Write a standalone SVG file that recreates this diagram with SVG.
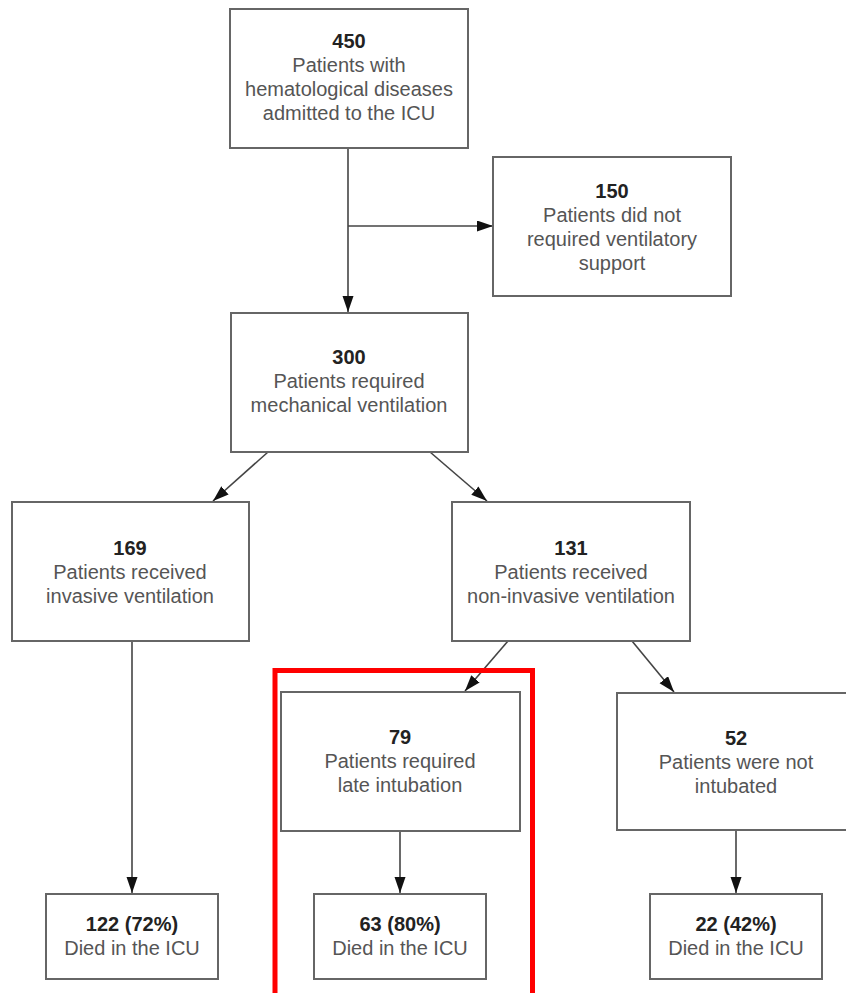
<svg xmlns="http://www.w3.org/2000/svg" width="846" height="993" viewBox="0 0 846 993">
<style>
.box{fill:#fff;stroke:#666;stroke-width:2}
.t{font-family:"Liberation Sans",Arial,sans-serif;font-size:20px;fill:#555;text-anchor:middle}
.n{font-weight:bold;fill:#222}
.c{stroke:#444;stroke-width:1.6;fill:none;marker-end:url(#ah)}
</style>
<defs>
<marker id="ah" markerUnits="userSpaceOnUse" markerWidth="17" markerHeight="12" refX="16" refY="5.5" orient="auto">
<path d="M0,0 L16,5.5 L0,11 z" fill="#111"/>
</marker>
</defs>
<rect width="846" height="993" fill="#fff"/>
<g id="connectors">
<line class="c" x1="348" y1="148" x2="348" y2="312"/>
<line class="c" x1="348" y1="226" x2="493" y2="226"/>
<line class="c" x1="268" y1="452" x2="213" y2="501"/>
<line class="c" x1="430" y1="452" x2="487" y2="501"/>
<line class="c" x1="132" y1="641" x2="132" y2="893"/>
<line class="c" x1="508" y1="641" x2="465" y2="691"/>
<line class="c" x1="632" y1="641" x2="674" y2="692"/>
<line class="c" x1="400" y1="831" x2="400" y2="893"/>
<line class="c" x1="736" y1="830" x2="736" y2="893"/>
</g>
<g id="n450">
<rect class="box" x="230" y="9" width="238" height="139"/>
<text class="t n" x="349" y="48">450</text>
<text class="t" x="349" y="72">Patients with</text>
<text class="t" x="349" y="96">hematological diseases</text>
<text class="t" x="349" y="120">admitted to the ICU</text>
</g>
<g id="n150">
<rect class="box" x="493" y="157" width="238" height="139"/>
<text class="t n" x="612" y="198">150</text>
<text class="t" x="612" y="222">Patients did not</text>
<text class="t" x="612" y="246">required ventilatory</text>
<text class="t" x="612" y="270">support</text>
</g>
<g id="n300">
<rect class="box" x="231" y="313" width="237" height="139"/>
<text class="t n" x="349" y="364">300</text>
<text class="t" x="349" y="388">Patients required</text>
<text class="t" x="349" y="412">mechanical ventilation</text>
</g>
<g id="n169">
<rect class="box" x="12" y="502" width="237" height="139"/>
<text class="t n" x="130" y="555">169</text>
<text class="t" x="130" y="579">Patients received</text>
<text class="t" x="130" y="603">invasive ventilation</text>
</g>
<g id="n131">
<rect class="box" x="452" y="502" width="238" height="139"/>
<text class="t n" x="571" y="555">131</text>
<text class="t" x="571" y="579">Patients received</text>
<text class="t" x="571" y="603">non-invasive ventilation</text>
</g>
<g id="n79">
<rect class="box" x="281" y="692" width="239" height="139"/>
<text class="t n" x="400" y="744">79</text>
<text class="t" x="400" y="768">Patients required</text>
<text class="t" x="400" y="792">late intubation</text>
</g>
<g id="n52">
<rect class="box" x="617" y="693" width="238" height="137"/>
<text class="t n" x="736" y="745">52</text>
<text class="t" x="736" y="769">Patients were not</text>
<text class="t" x="736" y="793">intubated</text>
</g>
<g id="n122">
<rect class="box" x="46" y="894" width="172" height="85"/>
<text class="t n" x="132" y="931">122 (72%)</text>
<text class="t" x="132" y="955">Died in the ICU</text>
</g>
<g id="n63">
<rect class="box" x="314" y="894" width="172" height="85"/>
<text class="t n" x="400" y="931">63 (80%)</text>
<text class="t" x="400" y="955">Died in the ICU</text>
</g>
<g id="n22">
<rect class="box" x="650" y="894" width="172" height="85"/>
<text class="t n" x="736" y="931">22 (42%)</text>
<text class="t" x="736" y="955">Died in the ICU</text>
</g>
<g id="highlight">
<path d="M275,1000 L275,670.5 L532.5,670.5 L532.5,1000" fill="none" stroke="#ff0000" stroke-width="5"/>
</g>
</svg>
